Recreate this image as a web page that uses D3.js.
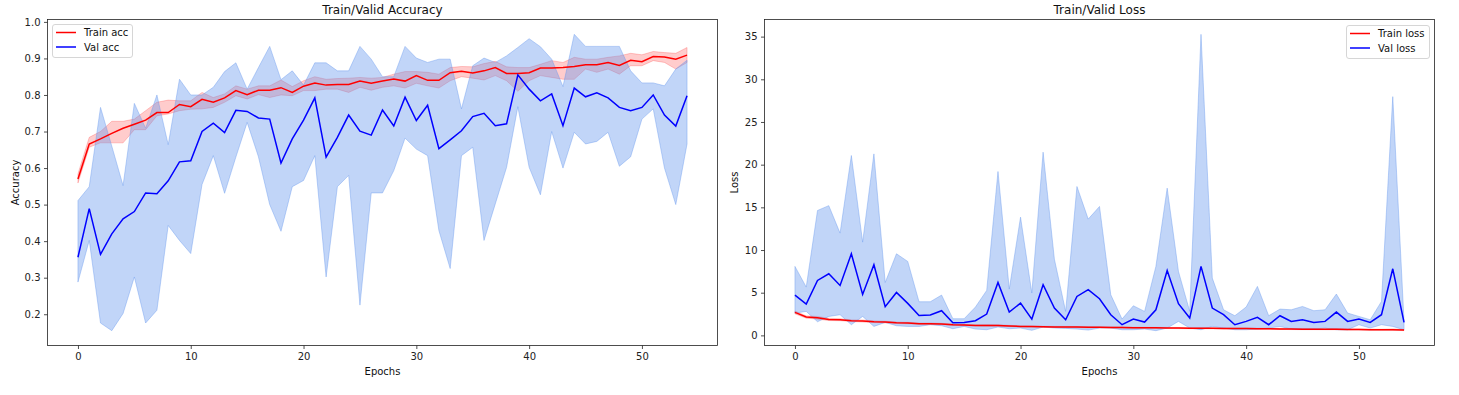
<!DOCTYPE html>
<html>
<head>
<meta charset="utf-8">
<script src="https://cdn.jsdelivr.net/npm/d3@7"></script>
<style>
  body { margin: 0; background: #fff; }
  svg { display: block; font-family: "DejaVu Sans", sans-serif; }
</style>
</head>
<body>
<svg id="chart" width="1459" height="395"></svg>
<script>
const epochs = d3.range(55);

const trainAcc = [0.570, 0.666, 0.680, 0.695, 0.709, 0.720, 0.731, 0.752, 0.752, 0.774, 0.768, 0.788, 0.780, 0.792, 0.812, 0.801, 0.813, 0.813, 0.820, 0.807, 0.824, 0.833, 0.827, 0.829, 0.829, 0.838, 0.832, 0.838, 0.844, 0.838, 0.853, 0.840, 0.840, 0.861, 0.865, 0.860, 0.866, 0.875, 0.859, 0.859, 0.861, 0.874, 0.874, 0.875, 0.878, 0.883, 0.883, 0.889, 0.881, 0.895, 0.891, 0.905, 0.904, 0.898, 0.909];
const trainAccLo = [0.559, 0.657, 0.669, 0.669, 0.669, 0.705, 0.705, 0.743, 0.748, 0.757, 0.761, 0.762, 0.766, 0.780, 0.798, 0.789, 0.801, 0.793, 0.800, 0.798, 0.812, 0.812, 0.816, 0.816, 0.807, 0.821, 0.813, 0.821, 0.825, 0.819, 0.832, 0.825, 0.819, 0.839, 0.850, 0.846, 0.841, 0.853, 0.839, 0.810, 0.839, 0.853, 0.848, 0.843, 0.843, 0.871, 0.862, 0.871, 0.857, 0.880, 0.880, 0.894, 0.889, 0.871, 0.889];
const trainAccHi = [0.584, 0.684, 0.700, 0.728, 0.728, 0.734, 0.757, 0.780, 0.786, 0.784, 0.784, 0.807, 0.793, 0.803, 0.825, 0.816, 0.825, 0.825, 0.841, 0.823, 0.839, 0.850, 0.843, 0.845, 0.846, 0.848, 0.846, 0.848, 0.857, 0.864, 0.864, 0.862, 0.857, 0.875, 0.878, 0.877, 0.886, 0.892, 0.877, 0.875, 0.875, 0.884, 0.894, 0.889, 0.903, 0.898, 0.898, 0.903, 0.907, 0.914, 0.910, 0.919, 0.916, 0.914, 0.930];

const valAcc = [0.356, 0.489, 0.364, 0.420, 0.461, 0.481, 0.532, 0.530, 0.565, 0.617, 0.620, 0.700, 0.723, 0.697, 0.758, 0.755, 0.737, 0.734, 0.614, 0.680, 0.731, 0.792, 0.630, 0.684, 0.745, 0.701, 0.690, 0.759, 0.715, 0.794, 0.730, 0.772, 0.653, 0.677, 0.702, 0.741, 0.750, 0.716, 0.721, 0.855, 0.816, 0.784, 0.803, 0.716, 0.819, 0.795, 0.806, 0.792, 0.766, 0.757, 0.766, 0.800, 0.745, 0.715, 0.798];
const valAccLo = [0.288, 0.402, 0.176, 0.155, 0.202, 0.302, 0.176, 0.211, 0.443, 0.402, 0.366, 0.555, 0.634, 0.531, 0.630, 0.725, 0.631, 0.500, 0.427, 0.549, 0.566, 0.634, 0.302, 0.549, 0.580, 0.225, 0.532, 0.532, 0.593, 0.682, 0.652, 0.634, 0.429, 0.325, 0.634, 0.657, 0.402, 0.502, 0.602, 0.768, 0.602, 0.527, 0.700, 0.600, 0.698, 0.666, 0.673, 0.698, 0.605, 0.631, 0.734, 0.762, 0.600, 0.500, 0.666];
const valAccHi = [0.511, 0.549, 0.766, 0.660, 0.552, 0.777, 0.709, 0.800, 0.664, 0.843, 0.800, 0.800, 0.821, 0.864, 0.888, 0.816, 0.875, 0.933, 0.842, 0.866, 0.827, 0.888, 0.888, 0.866, 0.866, 0.933, 0.898, 0.850, 0.850, 0.933, 0.901, 0.889, 0.898, 0.898, 0.762, 0.880, 0.901, 0.889, 0.907, 0.930, 0.954, 0.932, 0.898, 0.823, 0.966, 0.933, 0.933, 0.933, 0.933, 0.866, 0.833, 0.833, 0.825, 0.871, 0.895];

const trainLoss = [2.69, 2.15, 2.07, 1.87, 1.83, 1.72, 1.68, 1.60, 1.56, 1.48, 1.44, 1.37, 1.37, 1.33, 1.25, 1.21, 1.17, 1.17, 1.15, 1.10, 1.05, 1.03, 1.00, 0.99, 0.98, 0.97, 0.95, 0.94, 0.93, 0.92, 0.90, 0.89, 0.88, 0.87, 0.85, 0.84, 0.83, 0.83, 0.82, 0.80, 0.80, 0.78, 0.77, 0.76, 0.74, 0.73, 0.73, 0.72, 0.73, 0.70, 0.70, 0.67, 0.66, 0.67, 0.62];
const trainLossLo = [2.52, 2.02, 1.90, 1.74, 1.72, 1.62, 1.56, 1.50, 1.46, 1.39, 1.35, 1.29, 1.28, 1.25, 1.17, 1.13, 1.10, 1.08, 1.06, 1.02, 0.98, 0.96, 0.93, 0.92, 0.91, 0.90, 0.88, 0.87, 0.86, 0.85, 0.84, 0.83, 0.82, 0.81, 0.79, 0.78, 0.77, 0.77, 0.76, 0.74, 0.74, 0.72, 0.71, 0.70, 0.68, 0.67, 0.67, 0.66, 0.66, 0.64, 0.64, 0.61, 0.60, 0.60, 0.56];
const trainLossHi = [2.86, 2.28, 2.22, 2.00, 1.95, 1.82, 1.80, 1.70, 1.66, 1.57, 1.53, 1.45, 1.46, 1.41, 1.33, 1.29, 1.25, 1.27, 1.25, 1.18, 1.12, 1.10, 1.07, 1.06, 1.05, 1.04, 1.02, 1.01, 1.00, 0.99, 0.96, 0.95, 0.94, 0.93, 0.91, 0.90, 0.89, 0.89, 0.88, 0.86, 0.86, 0.84, 0.83, 0.82, 0.80, 0.79, 0.79, 0.78, 0.80, 0.76, 0.76, 0.73, 0.72, 0.76, 0.68];

const valLoss = [4.72, 3.67, 6.44, 7.22, 5.85, 9.56, 4.80, 8.27, 3.36, 5.03, 3.75, 2.34, 2.38, 2.89, 1.48, 1.52, 1.72, 2.50, 6.20, 2.73, 3.78, 1.91, 5.93, 3.20, 1.83, 4.56, 5.35, 4.29, 2.42, 1.25, 1.91, 1.56, 3.00, 7.61, 3.71, 2.03, 8.08, 3.20, 2.42, 1.25, 1.64, 2.11, 1.25, 2.30, 1.64, 1.83, 1.52, 1.64, 2.73, 1.64, 1.91, 1.52, 2.42, 7.80, 1.52];
const valLossLo = [2.61, 2.81, 1.60, 2.22, 2.42, 1.25, 2.22, 1.05, 1.52, 1.13, 1.05, 1.05, 1.25, 1.13, 0.78, 1.05, 0.74, 0.66, 0.98, 0.78, 0.86, 0.59, 0.98, 0.86, 0.82, 0.74, 0.62, 0.86, 0.86, 0.66, 0.66, 0.74, 0.55, 0.86, 1.64, 0.86, 0.66, 1.05, 0.86, 0.66, 0.66, 0.74, 0.86, 1.05, 0.74, 0.74, 0.74, 0.86, 0.66, 0.66, 1.25, 0.86, 1.25, 1.05, 0.66];
const valLossHi = [8.08, 5.66, 14.63, 15.20, 11.98, 21.07, 10.92, 21.26, 6.20, 9.56, 8.66, 3.94, 3.94, 4.72, 1.95, 1.95, 3.32, 5.27, 19.20, 5.42, 13.85, 4.96, 21.46, 8.93, 2.81, 17.44, 13.62, 15.10, 4.76, 1.91, 3.47, 2.81, 8.08, 17.25, 7.49, 2.81, 35.27, 6.71, 3.00, 2.30, 3.32, 5.74, 2.30, 3.08, 3.00, 3.39, 2.89, 3.00, 4.84, 2.61, 2.22, 1.83, 3.98, 27.97, 1.64];

const svg = d3.select('#chart');
const plotTop = 19.5, plotBottom = 345.5;

const panels = [
  {
    title: 'Train/Valid Accuracy', ylabel: 'Accuracy', x0: 47.5, x1: 717.5, ylabelX: 15,
    train: trainAcc, trainLo: trainAccLo, trainHi: trainAccHi,
    val: valAcc, valLo: valAccLo, valHi: valAccHi,
    fmt: d3.format('.1f'), yCount: 10,
    names: ['Train acc', 'Val acc'], legend: { x: 52.5, y: 24.5, w: 80 },
  },
  {
    title: 'Train/Valid Loss', ylabel: 'Loss', x0: 764.5, x1: 1434.5, ylabelX: 734,
    train: trainLoss, trainLo: trainLossLo, trainHi: trainLossHi,
    val: valLoss, valLo: valLossLo, valHi: valLossHi,
    fmt: d3.format('d'), yCount: 8,
    names: ['Train loss', 'Val loss'], legend: { x: 1346.5, y: 25.5, w: 83 },
  },
];

panels.forEach((p) => {
  const g = svg.append('g');

  // matplotlib style autoscale: data range + 5% margin
  const xPad = (epochs.length - 1) * 0.05;
  const x = d3.scaleLinear()
    .domain([-xPad, epochs.length - 1 + xPad])
    .range([p.x0, p.x1]);

  const lo = d3.min([...p.trainLo, ...p.valLo]);
  const hi = d3.max([...p.trainHi, ...p.valHi]);
  const yPad = (hi - lo) * 0.05;
  const y = d3.scaleLinear()
    .domain([lo - yPad, hi + yPad])
    .range([plotBottom, plotTop]);

  const band = (loArr, hiArr) => d3.area()
    .x(i => x(i))
    .y0(i => y(loArr[i]))
    .y1(i => y(hiArr[i]));
  const line = arr => d3.line()
    .x(i => x(i))
    .y(i => y(arr[i]));

  g.append('path')
    .attr('d', band(p.trainLo, p.trainHi)(epochs))
    .attr('fill', 'red')
    .attr('fill-opacity', 0.2)
    .attr('stroke', 'red')
    .attr('stroke-opacity', 0.2)
    .attr('stroke-width', 1);

  g.append('path')
    .attr('d', band(p.valLo, p.valHi)(epochs))
    .attr('fill', 'cornflowerblue')
    .attr('fill-opacity', 0.4)
    .attr('stroke', 'cornflowerblue')
    .attr('stroke-opacity', 0.4)
    .attr('stroke-width', 1);

  g.append('path')
    .attr('d', line(p.train)(epochs))
    .attr('fill', 'none')
    .attr('stroke', 'red')
    .attr('stroke-width', 1.5);

  g.append('path')
    .attr('d', line(p.val)(epochs))
    .attr('fill', 'none')
    .attr('stroke', 'blue')
    .attr('stroke-width', 1.5);

  // axes
  const xAxis = g.append('g')
    .attr('transform', `translate(0,${plotBottom})`)
    .call(d3.axisBottom(x).ticks(6).tickSize(3.5).tickPadding(3.5).tickSizeOuter(0));
  const yAxis = g.append('g')
    .attr('transform', `translate(${p.x0},0)`)
    .call(d3.axisLeft(y).ticks(p.yCount).tickFormat(p.fmt).tickSize(3.5).tickPadding(3.5).tickSizeOuter(0));
  [xAxis, yAxis].forEach((a) => {
    a.select('.domain').remove();
    a.selectAll('.tick line').attr('stroke', '#222').attr('stroke-width', 0.8);
    a.selectAll('.tick text')
      .attr('fill', '#222')
      .style('font-size', '10px')
      .style('font-family', '"DejaVu Sans", sans-serif');
  });

  g.append('rect')
    .attr('x', p.x0)
    .attr('y', plotTop)
    .attr('width', p.x1 - p.x0)
    .attr('height', plotBottom - plotTop)
    .attr('fill', 'none')
    .attr('stroke', '#222')
    .attr('stroke-width', 0.8);

  g.append('text')
    .attr('x', (p.x0 + p.x1) / 2)
    .attr('y', 13.5)
    .attr('text-anchor', 'middle')
    .style('font-size', '12px')
    .attr('fill', '#111')
    .text(p.title);

  g.append('text')
    .attr('x', (p.x0 + p.x1) / 2)
    .attr('y', 374.5)
    .attr('text-anchor', 'middle')
    .style('font-size', '10px')
    .attr('fill', '#111')
    .text('Epochs');

  g.append('text')
    .attr('transform', `translate(${p.ylabelX},${(plotTop + plotBottom) / 2}) rotate(-90)`)
    .attr('dy', '0.35em')
    .attr('text-anchor', 'middle')
    .style('font-size', '10px')
    .attr('fill', '#111')
    .text(p.ylabel);

  // legend
  const lg = g.append('g').attr('transform', `translate(${p.legend.x},${p.legend.y})`);
  lg.append('rect')
    .attr('width', p.legend.w)
    .attr('height', 33)
    .attr('rx', 2.5)
    .attr('fill', 'white')
    .attr('fill-opacity', 0.8)
    .attr('stroke', '#cccccc')
    .attr('stroke-width', 0.8);
  const items = lg.selectAll('g.item')
    .data(p.names)
    .enter()
    .append('g')
    .attr('class', 'item')
    .attr('transform', (d, i) => `translate(0,${8 + i * 14.5})`);
  items.append('line')
    .attr('x1', 3.5)
    .attr('x2', 23.5)
    .attr('stroke', (d, i) => (i === 0 ? 'red' : 'blue'))
    .attr('stroke-width', 1.5);
  items.append('text')
    .attr('x', 31.5)
    .attr('dy', '0.35em')
    .style('font-size', '10px')
    .attr('fill', '#111')
    .text(d => d);
});
</script>
</body>
</html>
